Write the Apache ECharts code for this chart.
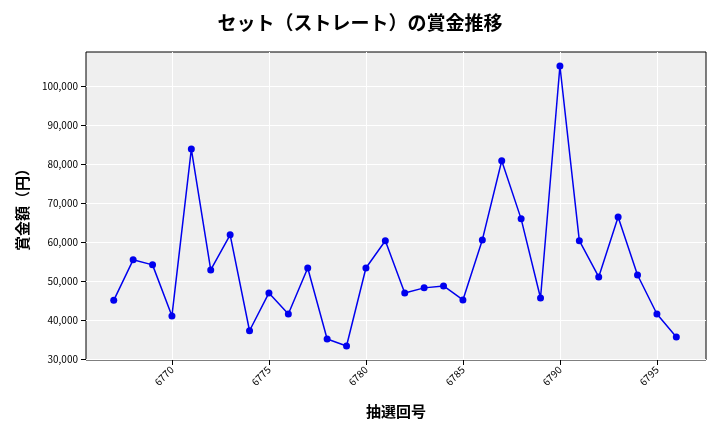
<!DOCTYPE html>
<html><head><meta charset="utf-8">
<script src="https://cdn.jsdelivr.net/npm/echarts@6/dist/echarts.min.js"></script>
<style>html,body{margin:0;padding:0;background:#fff}#c{width:720px;height:432px}</style>
</head><body><div id="c"></div>
<script>
const draws = [6767,6768,6769,6770,6771,6772,6773,6774,6775,6776,6777,6778,6779,6780,6781,6782,6783,6784,6785,6786,6787,6788,6789,6790,6791,6792,6793,6794,6795,6796];
const prizes = [45000,55400,54100,41000,83800,52800,61800,37200,46900,41500,53300,35100,33300,53300,60300,46900,48200,48700,45100,60500,80800,65900,45600,105100,60300,51000,66400,51500,41500,35600];
const xTicks = [6770,6775,6780,6785,6790,6795];
const yTicks = [30000,40000,50000,60000,70000,80000,90000,100000];
const F = '"Noto Sans CJK JP", sans-serif';
const chart = echarts.init(document.getElementById('c'));
chart.setOption({
  animation:false,
  title:{text:'セット（ストレート）の賞金推移',left:'center',top:8,textStyle:{fontFamily:F,fontSize:19,fontWeight:'bold',color:'#000'}},
  grid:{left:86,right:14,top:52,bottom:72,show:true,backgroundColor:'#efefef',borderColor:'#000',borderWidth:1},
  xAxis:{type:'value',min:6765.57,max:6797.53,
    name:'抽選回号',nameLocation:'middle',nameGap:44,nameTextStyle:{fontFamily:F,fontSize:15,fontWeight:'bold',color:'#000'},
    axisLine:{show:false},
    axisTick:{show:true,customValues:xTicks,lineStyle:{color:'#000'}},
    axisLabel:{customValues:xTicks,rotate:45,fontFamily:F,fontSize:10,color:'#000',formatter:v=>String(v)},
    splitLine:{show:true,lineStyle:{color:'#fff',width:1}}},
  yAxis:{type:'value',min:29700,max:108700,
    name:'賞金額（円）',nameLocation:'middle',nameGap:56,nameTextStyle:{fontFamily:F,fontSize:15,fontWeight:'bold',color:'#000'},
    axisLine:{show:false},
    axisTick:{show:true,customValues:yTicks,lineStyle:{color:'#000'}},
    axisLabel:{customValues:yTicks,fontFamily:F,fontSize:10,color:'#000',formatter:v=>v.toLocaleString('en-US')},
    splitLine:{show:true,lineStyle:{color:'#fff',width:1}}},
  series:[{type:'line',data:draws.map((d,i)=>[d,prizes[i]]),symbol:'circle',symbolSize:7,
    lineStyle:{color:'#0000ee',width:1.5},itemStyle:{color:'#0000ee'}}]
});
</script></body></html>
